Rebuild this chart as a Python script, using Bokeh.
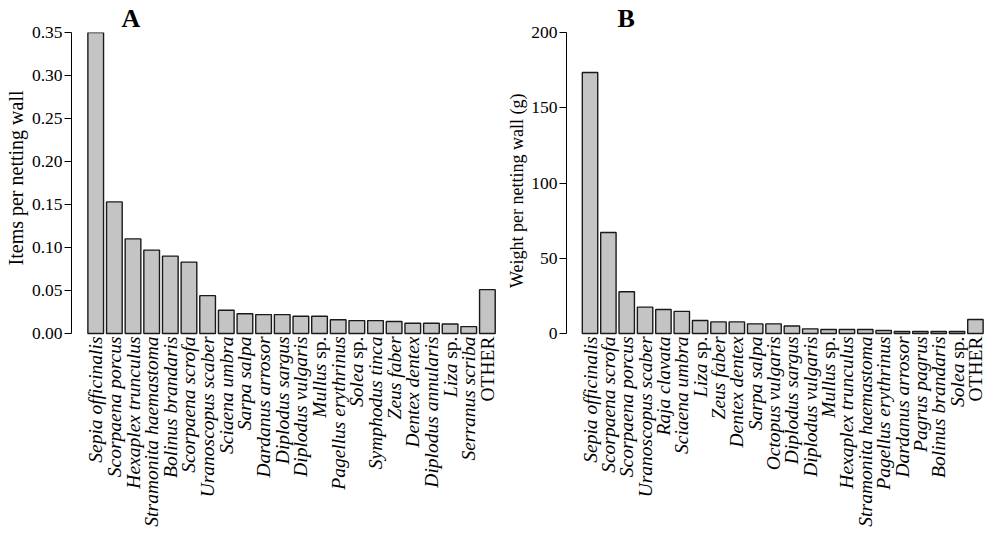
import math
from bokeh.plotting import figure
from bokeh.layouts import row
from bokeh.models import (ColumnDataSource, Range1d, FixedTicker, PrintfTickFormatter, Title)
from bokeh.core.properties import value
from bokeh.embed import file_html
from bokeh.resources import INLINE

# ---------------- data ----------------
items_species = ["Sepia officinalis", "Scorpaena porcus", "Hexaplex trunculus",
                 "Stramonita haemastoma", "Bolinus brandaris", "Scorpaena scrofa",
                 "Uranoscopus scaber", "Sciaena umbra", "Sarpa salpa", "Dardanus arrosor",
                 "Diplodus sargus", "Diplodus vulgaris", "Mullus sp.", "Pagellus erythrinus",
                 "Solea sp.", "Symphodus tinca", "Zeus faber", "Dentex dentex",
                 "Diplodus annularis", "Liza sp.", "Serranus scriba", "OTHER"]
items_values = [0.350, 0.153, 0.110, 0.097, 0.090, 0.083, 0.044, 0.027, 0.023, 0.022,
                0.022, 0.020, 0.020, 0.016, 0.015, 0.015, 0.014, 0.012, 0.012, 0.011,
                0.008, 0.051]
items_ticks = [0.0, 0.05, 0.10, 0.15, 0.20, 0.25, 0.30, 0.35]

weight_species = ["Sepia officinalis", "Scorpaena scrofa", "Scorpaena porcus",
                  "Uranoscopus scaber", "Raja clavata", "Sciaena umbra", "Liza sp.",
                  "Zeus faber", "Dentex dentex", "Sarpa salpa", "Octopus vulgaris",
                  "Diplodus sargus", "Diplodus vulgaris", "Mullus sp.", "Hexaplex trunculus",
                  "Stramonita haemastoma", "Pagellus erythrinus", "Dardanus arrosor",
                  "Pagrus pagrus", "Bolinus brandaris", "Solea sp.", "OTHER"]
weight_values = [173.4, 67.1, 27.7, 17.5, 15.9, 14.7, 8.6, 7.7, 7.7, 6.4, 6.4, 5.0,
                 3.1, 2.7, 2.7, 2.7, 2.0, 1.3, 1.3, 1.3, 1.3, 9.3]
weight_ticks = [0, 50, 100, 150, 200]

FONT = "Liberation Serif"
TICK_FS = 17.5
LAB_FS = 19.5
BAR_FILL = "#c4c4c4"
SP_WIDTH = 1.389 * LAB_FS  # width of " sp." in Times-like metrics
H = 544
TOP = 32          # frame top (pixel)
BASE = 333        # pixel row of the zero line


def split_labels(names):
    ital, rom = [], []
    for n in names:
        if n == "OTHER":
            ital.append(""); rom.append("OTHER")
        elif n.endswith(" sp."):
            ital.append(n[:-4]); rom.append("sp.")
        else:
            ital.append(n); rom.append("")
    return ital, rom


def make_panel(species, values, ticks, ymax, fmt, ylabel, ylabel_fs, ylabel_offset,
               title, width, mbl, mbr, x_start, x_end, title_offset):
    n = len(values)
    xs = list(range(n))
    ital, rom = split_labels(species)
    base = 3
    ital_off = [(base + (SP_WIDTH if r else 0)) for r in rom]
    rom_off = [base for _ in rom]
    src = ColumnDataSource(dict(x=xs, top=values, y0=[0] * n, ital=ital, rom=rom,
                                ioff=ital_off, roff=rom_off))
    y_start = -(H - BASE) * ymax / (BASE - TOP)
    p = figure(width=width, height=H, output_backend="svg", toolbar_location=None,
               x_range=Range1d(x_start, x_end), y_range=Range1d(y_start, ymax),
               x_axis_location=None, min_border=0, min_border_left=mbl,
               min_border_right=mbr, min_border_top=TOP, min_border_bottom=0)
    p.add_layout(Title(text=title, text_font=FONT, text_font_size="26px",
                       text_font_style="bold", align="left", offset=title_offset,
                       standoff=0, text_color="black"), "above")
    p.add_layout(Title(text=ylabel, text_font=FONT, text_font_size=f"{ylabel_fs}px",
                       text_font_style="normal", align="right", offset=ylabel_offset,
                       standoff=4, text_color="black"), "left")
    p.vbar(x="x", top="top", bottom=0, width=0.84, source=src,
           fill_color=BAR_FILL, line_color="#1a1a1a", line_width=1.4)
    p.xgrid.visible = False
    p.ygrid.visible = False
    p.outline_line_color = None
    ax = p.yaxis[0]
    ax.bounds = (0, ymax)
    ax.ticker = FixedTicker(ticks=ticks)
    ax.formatter = PrintfTickFormatter(format=fmt)
    ax.minor_tick_line_color = None
    ax.major_tick_in = 0
    ax.major_tick_out = 7
    ax.major_label_standoff = 2
    ax.axis_line_color = "black"
    ax.major_tick_line_color = "black"
    ax.major_label_text_font = FONT
    ax.major_label_text_font_size = f"{TICK_FS}px"
    ax.major_label_text_color = "black"

    p.text(x="x", y="y0", text="ital", source=src, angle=math.pi / 2,
           y_offset="ioff", text_align="right", text_baseline="middle",
           text_font=value(FONT), text_font_size=f"{LAB_FS}px",
           text_font_style="italic", text_color="black")
    p.text(x="x", y="y0", text="rom", source=src, angle=math.pi / 2,
           y_offset="roff", text_align="right", text_baseline="middle",
           text_font=value(FONT), text_font_size=f"{LAB_FS}px",
           text_font_style="normal", text_color="black")
    return p


p1 = make_panel(items_species, items_values, items_ticks, 0.35, "%.2f",
                "Items per netting wall", 20, 58, "A", 502, 71, 0, -1.298, 21.81, 50)
p2 = make_panel(weight_species, weight_values, weight_ticks, 200, "%d",
                "Weight per netting wall (g)", 18, 61, "B", 496, 58, 4, -1.282, 22.04, 51)

layout = row(p1, p2, spacing=0)
open("out.html", "w").write(file_html(layout, INLINE))
